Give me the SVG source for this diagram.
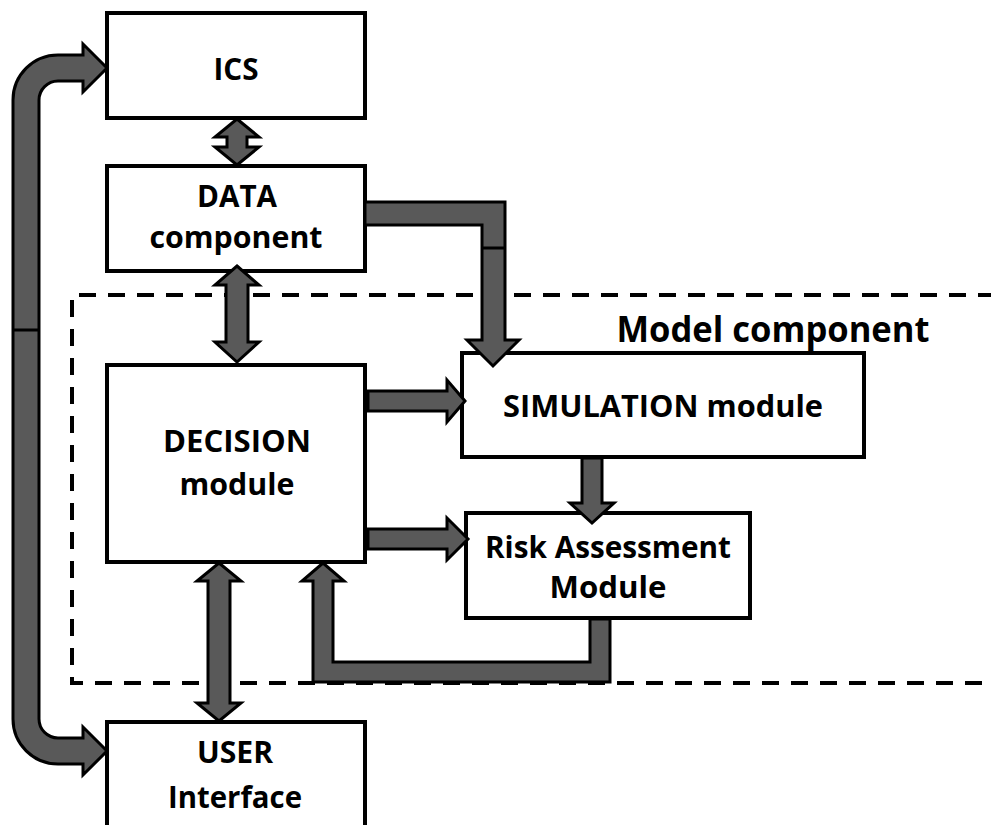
<svg xmlns="http://www.w3.org/2000/svg" width="991" height="825" viewBox="0 0 991 825">
<style>
.box{fill:#fff;stroke:#000;stroke-width:4}
.t{font-family:"Open Sans","Liberation Sans",sans-serif;font-weight:700;font-size:30px;fill:#000;text-anchor:middle}
.big{font-size:36px}
.arr{fill:#595959;stroke:#000;stroke-width:3;stroke-linejoin:miter}
.seam{stroke:#000;stroke-width:3}
.dash{fill:none;stroke:#000;stroke-width:4;stroke-dasharray:17 12}
</style>
<rect width="991" height="825" fill="#fff"/>
<g id="model-component">
<path class="dash" d="M995 295 H72 V683 H995"/>
<text class="t big" x="773" y="342" textLength="313" lengthAdjust="spacingAndGlyphs">Model component</text>
</g>
<g id="ics">
<rect class="box" x="107" y="13" width="258" height="105"/>
<text class="t" x="236" y="80" textLength="45" lengthAdjust="spacingAndGlyphs">ICS</text>
</g>
<g id="data">
<rect class="box" x="107" y="166" width="258" height="105"/>
<text class="t" x="237" y="207" textLength="80" lengthAdjust="spacingAndGlyphs">DATA</text>
<text class="t" x="236" y="248" textLength="173" lengthAdjust="spacingAndGlyphs">component</text>
</g>
<g id="decision">
<rect class="box" x="107" y="365" width="258" height="197"/>
<text class="t" x="237" y="452" textLength="148" lengthAdjust="spacingAndGlyphs">DECISION</text>
<text class="t" x="237" y="495" textLength="115" lengthAdjust="spacingAndGlyphs">module</text>
</g>
<g id="simulation">
<rect class="box" x="462" y="353" width="402" height="104"/>
<text class="t" x="663" y="417" textLength="320" lengthAdjust="spacingAndGlyphs">SIMULATION module</text>
</g>
<g id="risk">
<rect class="box" x="466" y="513" width="284" height="105"/>
<text class="t" x="608" y="558" textLength="246" lengthAdjust="spacingAndGlyphs">Risk Assessment</text>
<text class="t" x="608" y="598" textLength="117" lengthAdjust="spacingAndGlyphs">Module</text>
</g>
<g id="user">
<rect class="box" x="107" y="722" width="258" height="130"/>
<text class="t" x="235" y="763" textLength="76" lengthAdjust="spacingAndGlyphs">USER</text>
<text class="t" x="235" y="808" textLength="134" lengthAdjust="spacingAndGlyphs">Interface</text>
</g>
<g id="connectors">
<path class="arr" d="M83 55 L83 44 L107 68 L83 92 L83 81 L58 81 A19 19 0 0 0 39 100 L39 719 A19 19 0 0 0 58 738 L83 738 L83 727 L107 751 L83 775 L83 764 L58 764 A45 45 0 0 1 13 719 L13 100 A45 45 0 0 1 58 55 Z"/>
<line class="seam" x1="13" y1="330" x2="39" y2="330"/>
<polygon class="arr" points="237,119 259,137 247,137 247,147 259,147 237,165 215,147 227,147 227,137 215,137"/>
<polygon class="arr" points="237,266 259,285 248,285 248,342 259,342 237,362 215,342 226,342 226,285 215,285"/>
<polygon class="arr" points="219,563 241,581 230,581 230,703 241,703 219,721 197,703 208,703 208,581 197,581"/>
<polygon class="arr" points="365,202 505,202 505,340 519,340 493,366 467,340 482,340 482,225 365,225"/>
<line class="seam" x1="482" y1="248" x2="505" y2="248"/>
<polygon class="arr" points="368,391 447,391 447,380 465,401 447,422 447,411 368,411"/>
<polygon class="arr" points="368,529 447,529 447,518 468,539 447,560 447,549 368,549"/>
<polygon class="arr" points="582,458 602,458 602,503 614,503 592,523 570,503 582,503"/>
<polygon class="arr" points="610,619 610,682 313,682 313,581 302,581 323,563 344,581 333,581 333,662 590,662 590,619"/>
</g>
</svg>
